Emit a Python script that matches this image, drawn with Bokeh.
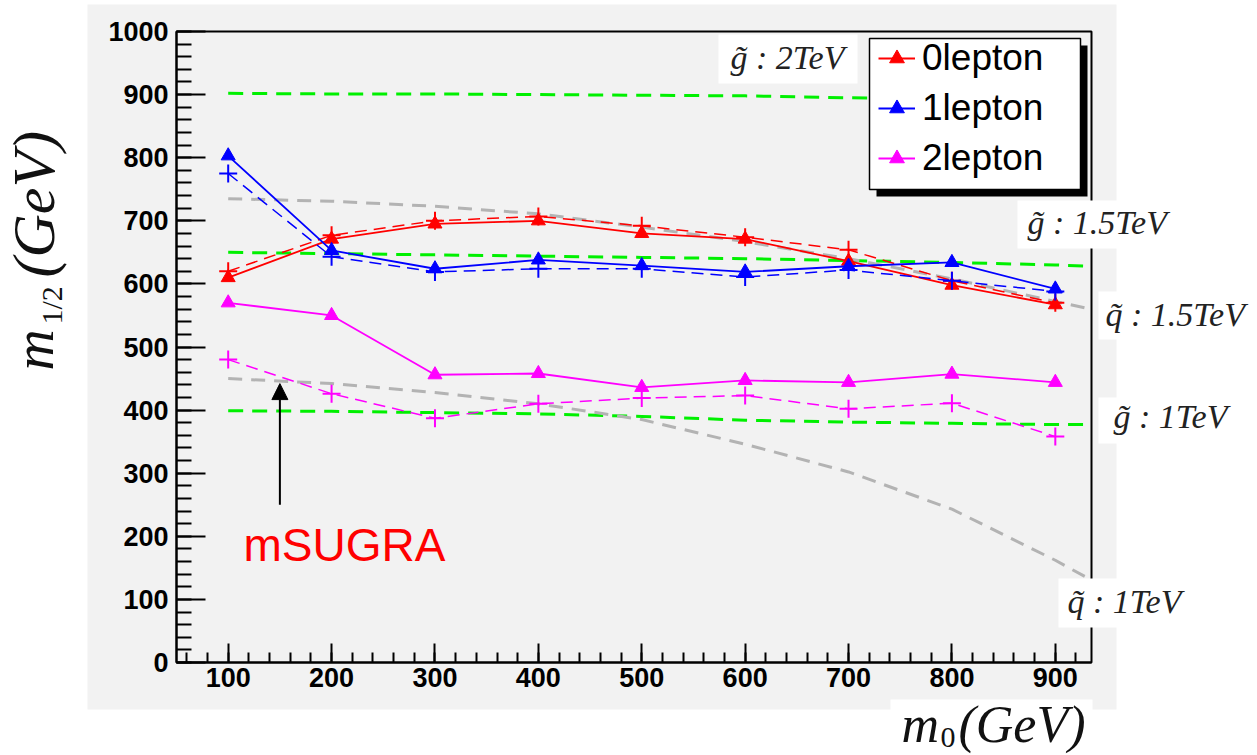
from math import pi
from bokeh.plotting import figure
from bokeh.models import (BoxAnnotation, Label, Legend, LegendItem, Arrow, NormalHead,
                          SingleIntervalTicker, Range1d)
from bokeh.embed import file_html
from bokeh.resources import INLINE

# ---------------- data ----------------
m0 = [100, 200, 300, 400, 500, 600, 700, 800, 900]
lep0_tri = [610, 671, 695, 700, 680, 671, 636, 598, 567]
lep0_plus = [620, 677, 700, 707, 692, 674, 654, 605, 570]
lep1_tri = [803, 653, 624, 638, 629, 619, 628, 634, 592]
lep1_plus = [775, 643, 619, 624, 624, 611, 622, 605, 588]
lep2_tri = [570, 550, 456, 458, 436, 447, 444, 457, 444]
lep2_plus = [480, 426, 387, 410, 419, 423, 402, 411, 358]

contour_x = [100, 200, 300, 400, 500, 600, 700, 800, 900, 935]
gluino_2tev = [902, 901, 901, 900, 899, 898, 895, 893, 891, 890]
gluino_15tev = [650, 648, 646, 644, 642, 640, 637, 634, 630, 628]
gluino_1tev = [399, 398, 396, 394, 390, 384, 381, 379, 377, 377]
squark_15tev = [735, 731, 723, 711, 690, 667, 640, 608, 572, 560]
squark1_x = [100, 200, 300, 400, 500, 600, 700, 800, 900, 930]
squark_1tev = [450, 442, 428, 410, 385, 346, 302, 243, 162, 135]

x_axis_range = [50, 935]
y_axis_range = [0, 1000]
arrow_x = [150, 150]
arrow_y = [250, 442]

series_names = ["0lepton", "1lepton", "2lepton"]
series_colors = ["#ff0000", "#0000ff", "#ff00ff"]

# ---------------- layout (pixels) ----------------
W, H = 1257, 755
FL, FR, FT, FB = 176, 1091, 31, 662  # plot box on the canvas
sx = (FR - FL) / (x_axis_range[1] - x_axis_range[0])
sy = (FB - FT) / (y_axis_range[1] - y_axis_range[0])
xr = Range1d(x_axis_range[0] - FL / sx, x_axis_range[1] + (W - FR) / sx)
yr = Range1d(y_axis_range[0] - (H - FB) / sy, y_axis_range[1] + FT / sy)

p = figure(width=W, height=H, output_backend="svg", toolbar_location=None,
           x_range=xr, y_range=yr, min_border=0,
           background_fill_color="white", border_fill_color="white",
           outline_line_color=None)
p.grid.visible = False


def cbox(l, r, t, b, fill, line=None, level="annotation", lw=1.5):
    bx = BoxAnnotation(left=l, right=r, top=t, bottom=b,
                       left_units="canvas", right_units="canvas",
                       top_units="canvas", bottom_units="canvas",
                       fill_color=fill, fill_alpha=1.0 if fill else 0.0,
                       line_color=line, line_alpha=1.0 if line else 0.0,
                       line_width=lw, level=level)
    p.add_layout(bx)
    return bx


def text(t, x, y, font, size, color="#111111", style="normal", angle=0.0, align="left"):
    p.add_layout(Label(x=x, y=y, x_units="canvas", y_units="canvas", text=t, angle=angle,
                       text_font=font, text_font_style=style, text_font_size=size,
                       text_color=color, text_align=align, text_baseline="middle"))


# grey panel behind everything
cbox(87, 1116, 4, 709, "#f2f2f2", level="image")

# axes drawn at fixed positions along the plot box
xa, ya = p.xaxis[0], p.yaxis[0]
xa.fixed_location = y_axis_range[0]
ya.fixed_location = x_axis_range[0]
xa.bounds = tuple(x_axis_range)
ya.bounds = tuple(y_axis_range)
for ax in (xa, ya):
    ax.axis_line_width = 2
    ax.axis_line_color = "black"
    ax.major_tick_line_width = 2
    ax.minor_tick_line_width = 2
    ax.major_tick_line_color = "black"
    ax.minor_tick_line_color = "black"
    ax.major_tick_out = 0
    ax.minor_tick_out = 0
    ax.major_label_text_font = "Liberation Sans"
    ax.major_label_text_font_style = "bold"
    ax.major_label_text_color = "black"
    ax.major_label_text_font_size = "27px"
    ax.ticker = SingleIntervalTicker(interval=100, num_minor_ticks=5)
xa.major_tick_in = 19
xa.minor_tick_in = 10
xa.major_label_standoff = 5
ya.major_tick_in = 29
ya.minor_tick_in = 15
ya.major_label_standoff = 8

# plot box outline
p.add_layout(BoxAnnotation(left=x_axis_range[0], right=x_axis_range[1],
                           bottom=y_axis_range[0], top=y_axis_range[1],
                           fill_alpha=0.0, line_color="black", line_alpha=1.0,
                           line_width=2, level="guide"))

# ---------------- contours ----------------
green = "#00f000"
grey = "#b3b3b3"
p.line(contour_x, gluino_2tev, line_color=green, line_width=3, line_dash="15 9")
p.line(contour_x, gluino_15tev, line_color=green, line_width=3, line_dash="15 9")
p.line(contour_x, gluino_1tev, line_color=green, line_width=3, line_dash="15 9")
p.line(contour_x, squark_15tev, line_color=grey, line_width=3, line_dash="14 9")
p.line(squark1_x, squark_1tev, line_color=grey, line_width=3, line_dash="14 9")

# ---------------- series ----------------
tri_data = [lep0_tri, lep1_tri, lep2_tri]
plus_data = [lep0_plus, lep1_plus, lep2_plus]
items = []
for name, col, tri, pl in zip(series_names, series_colors, tri_data, plus_data):
    p.line(m0, pl, line_color=col, line_width=1.5, line_dash="12 7")
    p.scatter(m0, pl, marker="cross", size=18, line_color=col, line_width=2)
    lr = p.line(m0, tri, line_color=col, line_width=1.8)
    sr = p.scatter(m0, tri, marker="triangle", size=14, fill_color=col, line_color=col)
    items.append(LegendItem(label=name, renderers=[lr, sr]))

# ---------------- legend ----------------
cbox(876, 1087, 45, 196, "black")
cbox(869, 1080, 38, 189, "white", line="black", lw=1.5)
legend = Legend(items=items, location=(870, H - 187), orientation="vertical",
                padding=8, spacing=8, margin=0,
                glyph_width=37, glyph_height=40, label_height=40, label_standoff=7,
                label_text_font="Liberation Sans", label_text_font_size="37px",
                label_text_color="black",
                background_fill_alpha=0, border_line_alpha=0)
legend.level = "overlay"
p.add_layout(legend)

# ---------------- mass labels ----------------
def tag(t, l, r, top, b, tx, ty, size="34px"):
    cbox(l, r, top, b, "white")
    text(t, tx, ty, "Liberation Serif", size, color="#222222", style="italic")

tag("g\u0303 : 2TeV", 718, 857, 34, 83, 730, 57)
tag("g\u0303 : 1.5TeV", 1017, 1173, 200, 248, 1027, 222)
tag("q\u0303 : 1.5TeV", 1098, 1257, 291, 339, 1105, 314)
tag("g\u0303 : 1TeV", 1098, 1250, 397, 443, 1113, 416)
tag("q\u0303 : 1TeV", 1058, 1193, 578, 627, 1067, 601)

# ---------------- axis titles ----------------
cbox(890, 1092, 699, 755, "white")
text("m", 901, 724, "Liberation Serif", "52px", style="italic")
text("0", 940, 737, "Liberation Serif", "30px")
text("(GeV)", 958, 724, "Liberation Serif", "52px", style="italic")

cbox(10, 75, 120, 375, "white")
text("m", 33, 370, "Liberation Serif", "57px", style="italic", angle=pi / 2)
text("1/2", 51, 324, "Liberation Serif", "30px", angle=pi / 2)
text("(GeV)", 33, 277, "Liberation Serif", "60px", style="italic", angle=pi / 2)

# ---------------- mSUGRA note ----------------
p.add_layout(Arrow(end=NormalHead(size=16, fill_color="black", line_color="black"),
                   x_start=arrow_x[0], y_start=arrow_y[0], x_end=arrow_x[1], y_end=arrow_y[1],
                   line_width=2, line_color="black"))
text("mSUGRA", 243, 544, "Liberation Sans", "46px", color="#ff0000")

open("out.html", "w").write(file_html(p, INLINE))
